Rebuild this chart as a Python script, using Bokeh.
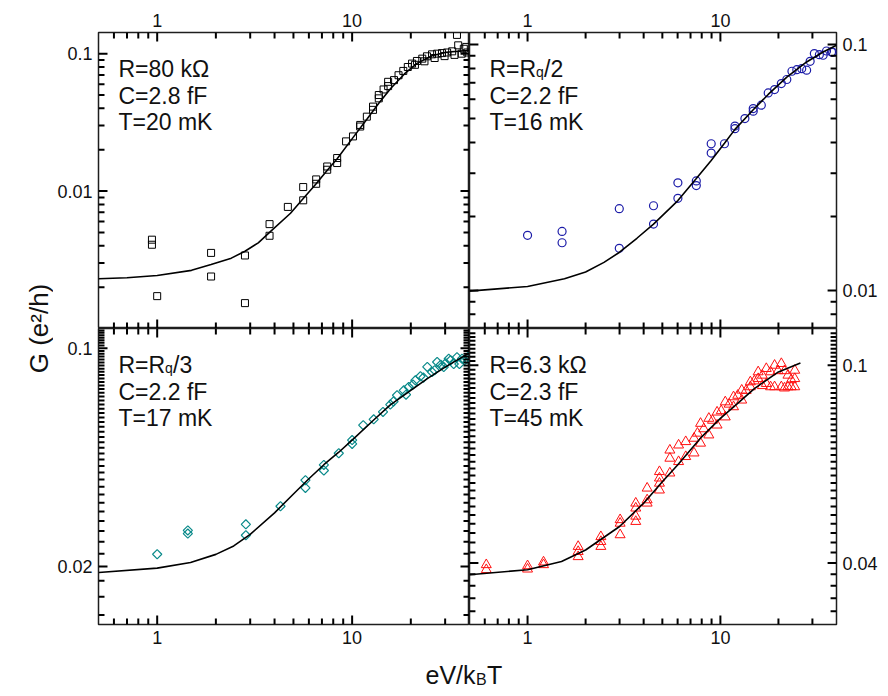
from math import pi, log10
from bokeh.plotting import figure
from bokeh.models import LogAxis, FixedTicker, CustomJSTickFormatter, Label, Range1d, Spacer
from bokeh.layouts import row, column
from bokeh.embed import file_html
from bokeh.resources import INLINE

FONT = "Liberation Sans"
NAN = float("nan")

# ---------------- data ----------------
# Panel a: R=80 kOhm, C=2.8 fF, T=20 mK (squares)
a_x = [0.94, 0.94, 1.0, 1.89, 1.89, 2.82, 2.82, 3.77, 3.77, 4.68, 5.61, 5.61, 6.54, 6.54,
       7.45, 7.45, 8.38, 8.38, 9.31, 10.1, 11.0, 11.0, 11.9, 12.8, 12.8, 13.7, 13.7, 14.5,
       15.3, 15.3, 16.4, 17.3, 18.3, 19.3, 20.3, 21.5, 22.9, 24.2, 25.7, 27.3, 28.9, 30.7,
       32.6, 34.5, 35.0, 37.4, 38.5, 21.0, 23.5, 26.5, 29.8, 33.5, 36.5, 39.0]
a_y = [0.00443, 0.00407, 0.00172, 0.00355, 0.00239, 0.0034, 0.00153, 0.00575, 0.00473,
       0.00767, 0.0107, 0.00857, 0.01216, 0.0113, 0.0151, 0.0143, 0.0174, 0.0160, 0.0230,
       0.0250, 0.0303, 0.0295, 0.0348, 0.0390, 0.0412, 0.0473, 0.0500, 0.0549, 0.0624,
       0.0581, 0.0642, 0.0697, 0.0749, 0.0800, 0.0847, 0.0885, 0.0920, 0.0957, 0.0989,
       0.1000, 0.1010, 0.1020, 0.1040, 0.1370, 0.1150, 0.1086, 0.1120, 0.0830, 0.0880,
       0.0930, 0.0960, 0.0980, 0.1000, 0.1020]
a_fit_x = [0.5, 0.7, 1.0, 1.5, 1.89, 2.4, 2.82, 3.3, 3.77, 4.83, 5.6, 6.54, 7.4, 8.38, 10.1,
           11.9, 13.7, 15.8, 18.6, 21.5, 25.7, 30.3, 40.0]
a_fit_y = [0.00230, 0.00234, 0.00243, 0.00265, 0.00292, 0.00325, 0.00365, 0.00420, 0.00500,
           0.00690, 0.00880, 0.01130, 0.01400, 0.01720, 0.02450, 0.03330, 0.04350, 0.05600,
           0.07150, 0.08500, 0.09650, 0.10250, 0.10550]

# Panel b: R=Rq/2, C=2.2 fF, T=16 mK (circles)
b_x = [1.0, 1.51, 1.51, 2.99, 2.99, 4.50, 4.50, 6.02, 6.02, 7.50, 7.50, 8.96, 8.96, 10.5,
       11.9, 11.9, 13.4, 14.8, 14.8, 16.3, 17.7, 19.1, 20.7, 22.1, 23.5, 24.9, 26.4, 28.0,
       29.2, 30.7, 32.6, 34.1, 35.5, 37.7, 38.2]
b_y = [0.01675, 0.01738, 0.01563, 0.0215, 0.01483, 0.0221, 0.01862, 0.0274, 0.0237, 0.0279,
       0.0267, 0.0395, 0.0362, 0.0395, 0.0466, 0.0455, 0.0500, 0.0549, 0.0536, 0.0567,
       0.0636, 0.0656, 0.0694, 0.0721, 0.0779, 0.0791, 0.0798, 0.0787, 0.0855, 0.0919,
       0.0910, 0.0905, 0.0942, 0.0934, 0.0930]
b_fit_x = [0.496, 1.0, 1.554, 2.0, 2.49, 3.0, 3.69, 4.50, 6.02, 7.50, 8.96, 10.5, 11.9,
           14.8, 17.7, 22.1, 28.0, 34.1, 40.0]
b_fit_y = [0.00993, 0.01038, 0.01115, 0.01189, 0.01300, 0.01430, 0.01630, 0.01860, 0.02320,
           0.02850, 0.03380, 0.03970, 0.04520, 0.05430, 0.06270, 0.07370, 0.08500, 0.09330,
           0.09940]

# Panel c: R=Rq/3, C=2.2 fF, T=17 mK (diamonds)
c_x = [1.0, 1.436, 1.436, 2.85, 2.85, 4.29, 5.76, 5.76, 7.16, 7.16, 8.54, 10.0, 10.0, 11.4,
       12.9, 14.4, 15.7, 17.0, 18.4, 19.5, 21.1, 22.4, 24.3, 25.7, 27.3, 29.5, 31.3, 33.2,
       34.5, 36.6, 38.9, 16.3, 18.9, 20.5, 23.2, 26.5, 28.5, 30.2, 32.0, 35.5, 37.7, 39.5]
c_y = [0.0219, 0.0261, 0.0255, 0.0273, 0.0252, 0.0312, 0.0378, 0.0357, 0.0423, 0.0406,
       0.0461, 0.0508, 0.0494, 0.0567, 0.0592, 0.0625, 0.0660, 0.0707, 0.0733, 0.0751,
       0.0789, 0.0813, 0.0871, 0.0839, 0.0903, 0.0870, 0.0925, 0.0890, 0.0936, 0.0925,
       0.0925, 0.0675, 0.0710, 0.0765, 0.0805, 0.0850, 0.0885, 0.0895, 0.0915, 0.0890,
       0.0915, 0.0940]
c_fit_x = [0.502, 1.0, 1.483, 2.0, 2.47, 3.0, 4.0, 5.0, 6.0, 7.16, 8.54, 10.0, 12.9, 15.7,
           20.0, 24.3, 30.0, 40.0]
c_fit_y = [0.01915, 0.01977, 0.0206, 0.02188, 0.02328, 0.02536, 0.02972, 0.03413, 0.03819,
           0.04236, 0.04645, 0.0508, 0.0589, 0.0658, 0.0733, 0.0799, 0.0870, 0.0966]

# Panel d: R=6.3 kOhm, C=2.3 fF, T=45 mK (triangles)
d_x = [0.611, 0.611, 1.0, 1.0, 1.21, 1.21, 1.83, 1.83, 1.83, 2.40, 2.40, 2.40, 3.02, 3.02,
       3.02, 3.64, 3.64, 3.64, 3.64, 4.17, 4.17, 4.17, 4.83, 4.83, 4.83, 4.83, 5.47, 5.47,
       5.47, 6.07, 6.07, 6.61, 6.61, 7.30, 7.30, 7.89, 7.89, 8.71, 8.71, 9.61, 9.61, 10.6,
       10.6, 11.7, 11.7, 12.9, 12.9, 14.3, 14.3, 15.7, 15.7, 17.3, 17.3, 19.1, 19.1, 20.7,
       20.7, 22.4, 22.4, 24.3, 24.3, 24.3, 7.6, 8.2, 9.1, 10.1, 11.1, 12.3, 13.6, 15.0,
       16.5, 18.2, 19.9, 21.5, 23.3, 16.5, 18.2, 21.5, 23.3]
d_y = [0.0397, 0.0388, 0.0395, 0.0389, 0.0402, 0.0397, 0.0432, 0.0422, 0.0412, 0.0452,
       0.0442, 0.0432, 0.0489, 0.0481, 0.0456, 0.0528, 0.0516, 0.0497, 0.0485, 0.0566,
       0.0536, 0.0528, 0.0611, 0.0593, 0.0579, 0.0561, 0.0675, 0.0650, 0.0607, 0.0691,
       0.0640, 0.0702, 0.0655, 0.0713, 0.0666, 0.0764, 0.0697, 0.0782, 0.0724, 0.0805,
       0.0758, 0.0844, 0.0787, 0.0864, 0.0825, 0.0891, 0.0851, 0.0926, 0.0905, 0.0970,
       0.0940, 0.0985, 0.0919, 0.1000, 0.0905, 0.1008, 0.0905, 0.0955, 0.0905, 0.0977,
       0.0940, 0.0905, 0.0730, 0.0745, 0.0775, 0.0810, 0.0835, 0.0870, 0.0890, 0.0930,
       0.0955, 0.0970, 0.0975, 0.0975, 0.0935, 0.0910, 0.0905, 0.0900, 0.0905]
d_fit_x = [0.5, 1.0, 1.5, 2.0, 3.0, 4.0, 5.0, 6.0, 8.0, 10.0, 12.0, 15.0, 20.0, 26.0]
d_fit_y = [0.0379, 0.0388, 0.0403, 0.0425, 0.0474, 0.0528, 0.0583, 0.0630, 0.0718, 0.0782,
           0.0832, 0.0898, 0.0970, 0.1011]

# axis ranges and ticks
x_lim = (0.5, 40)
x_major = [1.0, 10.0]
x_minor = [0.6, 0.7, 0.8, 0.9, 2.0, 3.0, 4.0, 5.0, 6.0, 7.0, 8.0, 9.0, 20.0, 30.0]

a_ylim = (0.001, 0.1426)
b_ylim = (0.007, 0.112)
c_ylim = (0.01305, 0.1156)
d_ylim = (0.0301, 0.1186)

std_minor = [0.002, 0.003, 0.004, 0.005, 0.006, 0.007, 0.008, 0.009,
             0.02, 0.03, 0.04, 0.05, 0.06, 0.07, 0.08, 0.09]
a_major, a_minor = [0.01, 0.1], std_minor
b_major, b_minor = [0.01, 0.1], [0.008, 0.009] + std_minor[8:]
c_major = [0.02, 0.1]
c_minor = [round(0.014 + 0.002 * i, 3) for i in range(51)]
c_minor = [t for t in c_minor if t not in (0.02, 0.1)]
d_major = [0.04, 0.1]
d_minor = [round(0.032 + 0.002 * i, 3) for i in range(43)]
d_minor = [t for t in d_minor if t not in (0.04, 0.1)]

# layout (page body has no margin, so offsets are explicit)
FW, FH = 371, 296
LB, RB, TB, BB = 45, 40, 26, 26
LEFT_W, TOP_PAD, XH = 53, 6, 44
INK = "#1e1e1e"
MAJ, MIN = 9, 6


def tick_marks(p, ylim, y_major, y_minor):
    # inward tick marks on all four frame edges, as one broken polyline (NaN separators);
    # tick lengths in pixels are turned into log-scale factors
    fx = 10 ** (1.0 / (FW / log10(x_lim[1] / x_lim[0])))
    fy = 10 ** (1.0 / (FH / log10(ylim[1] / ylim[0])))
    e = 1.0005
    xs, ys = [], []
    for vals, ln in ((x_major, MAJ), (x_minor, MIN)):
        for v in vals:
            xs += [v, v, NAN, v, v, NAN]
            ys += [ylim[0] * e, ylim[0] * fy ** ln, NAN, ylim[1] / e, ylim[1] / fy ** ln, NAN]
    for vals, ln in ((y_major, MAJ), (y_minor, MIN)):
        for v in vals:
            if ylim[0] < v < ylim[1]:
                xs += [x_lim[0] * e, x_lim[0] * fx ** ln, NAN, x_lim[1] / e, x_lim[1] / fx ** ln, NAN]
                ys += [v, v, NAN, v, v, NAN]
    p.line(xs, ys, line_color="black", line_width=2)


def make_panel(ylim, y_major, y_minor, left_lab, top_lab):
    w = FW + (LB if left_lab else RB)
    h = FH + (TB if top_lab else BB)
    p = figure(width=w, height=h, x_axis_type="log", y_axis_type="log", title=None,
               x_range=Range1d(*x_lim), y_range=Range1d(*ylim),
               x_axis_location=None, y_axis_location=None,
               toolbar_location=None, output_backend="svg",
               min_border_left=LB if left_lab else 0,
               min_border_right=0 if left_lab else RB,
               min_border_top=TB if top_lab else 0,
               min_border_bottom=0 if top_lab else BB,
               outline_line_color=INK, outline_line_width=1.5,
               background_fill_color="white", border_fill_color="white")
    p.xgrid.visible = False
    p.ygrid.visible = False
    for side, is_x in (("left" if left_lab else "right", False),
                       ("above" if top_lab else "below", True)):
        ticks = x_major if is_x else y_major
        ax = LogAxis(ticker=FixedTicker(ticks=ticks, minor_ticks=[]),
                     formatter=CustomJSTickFormatter(code="return String(tick)"))
        ax.axis_line_color = None
        ax.major_tick_line_color = None
        ax.minor_tick_line_color = None
        ax.major_tick_in = 0
        ax.major_tick_out = 0
        ax.minor_tick_in = 0
        ax.minor_tick_out = 0
        ax.major_label_text_font = FONT
        ax.major_label_text_font_size = "18px"
        ax.major_label_text_color = "#111111"
        ax.major_label_standoff = 6
        p.add_layout(ax, side)
    return p


def add_label(p, x, y, text, size="23px"):
    p.add_layout(Label(x=x, y=y, x_units="screen", y_units="screen", text=text,
                       text_font=FONT, text_font_size=size, text_color="#111111",
                       text_baseline="alphabetic", text_align="left"))


def add_caption(p, lines, rq=None):
    base = [FH - 36.5, FH - 63.2, FH - 89.9]
    if rq is None:
        add_label(p, 20, base[0], lines[0])
    else:
        add_label(p, 20, base[0], "R=R")
        add_label(p, 66.6, base[0] - 3, "q", "14px")
        add_label(p, 74.6, base[0], "/" + rq)
    add_label(p, 20, base[1], lines[1])
    add_label(p, 20, base[2], lines[2])


pa = make_panel(a_ylim, a_major, a_minor, True, True)
pa.scatter(a_x, a_y, marker="square", size=7, line_color="black", fill_color=None, line_width=1)
pa.line(a_fit_x, a_fit_y, line_color="black", line_width=1.6)
tick_marks(pa, a_ylim, a_major, a_minor)
add_caption(pa, ["R=80 k\u03a9", "C=2.8 fF", "T=20 mK"])

pb = make_panel(b_ylim, b_major, b_minor, False, True)
pb.scatter(b_x, b_y, marker="circle", size=8, line_color="#1c1ca8", fill_color=None, line_width=1.2)
pb.line(b_fit_x, b_fit_y, line_color="black", line_width=1.6)
tick_marks(pb, b_ylim, b_major, b_minor)
add_caption(pb, [None, "C=2.2 fF", "T=16 mK"], rq="2")

pc = make_panel(c_ylim, c_major, c_minor, True, False)
pc.scatter(c_x, c_y, marker="square", angle=pi / 4, size=6.5, line_color="#0a8a8a",
           fill_color=None, line_width=1.2)
pc.line(c_fit_x, c_fit_y, line_color="black", line_width=1.6)
tick_marks(pc, c_ylim, c_major, c_minor)
add_caption(pc, [None, "C=2.2 fF", "T=17 mK"], rq="3")

pd = make_panel(d_ylim, d_major, d_minor, False, False)
pd.scatter(d_x, d_y, marker="triangle", size=10, line_color="#ff1010", fill_color=None, line_width=1)
pd.line(d_fit_x, d_fit_y, line_color="black", line_width=1.6)
tick_marks(pd, d_ylim, d_major, d_minor)
add_caption(pd, ["R=6.3 k\u03a9", "C=2.3 fF", "T=45 mK"])

# global axis titles
TOTAL_H = TOP_PAD + 2 * FH + TB + BB + XH
ylab = figure(width=LEFT_W, height=TOTAL_H, toolbar_location=None, output_backend="svg",
              title=None, x_axis_location=None, y_axis_location=None, min_border=0,
              outline_line_color=None, border_fill_color="white", background_fill_color="white")
ylab.xgrid.visible = False
ylab.ygrid.visible = False
ylab.add_layout(Label(x=38, y=TOTAL_H - (TOP_PAD + TB + FH), x_units="screen", y_units="screen",
                      text="G (e\u00b2/h)", angle=pi / 2, text_font=FONT, text_font_size="26px",
                      text_color="#111111", text_align="center", text_baseline="alphabetic"))

xlab = figure(width=LB + FW + FW + RB, height=XH, toolbar_location=None, output_backend="svg",
              title=None, x_axis_location=None, y_axis_location=None, min_border=0,
              outline_line_color=None, border_fill_color="white", background_fill_color="white")
xlab.xgrid.visible = False
xlab.ygrid.visible = False
xlab.add_layout(Label(x=422, y=20, x_units="screen", y_units="screen", text="eV/k",
                      text_font=FONT, text_font_size="25px", text_color="#111111",
                      text_align="right", text_baseline="alphabetic"))
xlab.add_layout(Label(x=422.5, y=15, x_units="screen", y_units="screen", text="B",
                      text_font=FONT, text_font_size="16px", text_color="#111111",
                      text_align="left", text_baseline="alphabetic"))
xlab.add_layout(Label(x=433.5, y=20, x_units="screen", y_units="screen", text="T",
                      text_font=FONT, text_font_size="25px", text_color="#111111",
                      text_align="left", text_baseline="alphabetic"))

layout = row(ylab, column(Spacer(height=TOP_PAD, width=LB + FW + FW + RB),
                          row(pa, pb), row(pc, pd), xlab))

open("out.html", "w").write(file_html(layout, INLINE))
